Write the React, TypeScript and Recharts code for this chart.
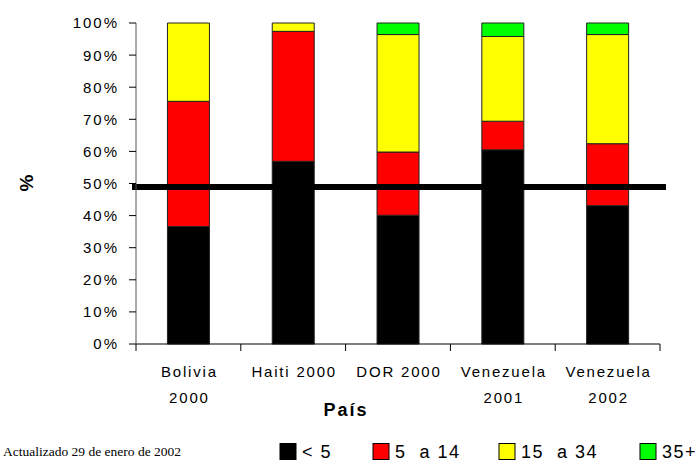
import React from 'react';
import { BarChart, Bar, XAxis, YAxis, ReferenceLine } from 'recharts';

// data (percent of cases by age group)
const categories = ['Bolivia\n2000', 'Haiti 2000', 'DOR 2000', 'Venezuela\n2001', 'Venezuela\n2002'];
const under5 = [36.6, 56.9, 40.1, 60.5, 43.1];
const age5to14 = [39.0, 40.5, 19.7, 8.9, 19.3];
const age15to34 = [24.4, 2.6, 36.6, 26.4, 34.0];
const age35plus = [0, 0, 3.6, 4.2, 3.6];
const yTicks = [0, 10, 20, 30, 40, 50, 60, 70, 80, 90, 100];
const threshold = 48.9;

const seriesNames = ['< 5', '5  a 14', '15  a 34', '35+'];
const seriesKeys = ['a', 'b', 'c', 'd'];
const seriesColors = ['#000000', '#FF0000', '#FFFF00', '#00FF00'];

const data = categories.map((name, i) => ({
  name,
  a: under5[i],
  b: age5to14[i],
  c: age15to34[i],
  d: age35plus[i],
}));

const W = 700;
const H = 461;
const MARGIN = { top: 23, right: 40, bottom: 57, left: 0 };
const Y_AXIS_W = 136;
const PLOT_W = W - MARGIN.right - MARGIN.left - Y_AXIS_W;
const BAND = PLOT_W / categories.length;
const FONT = '"Liberation Sans", Arial, sans-serif';

const CategoryTick = ({ x, y, payload, index }: any) => {
  const lines = String(payload.value).split('\n');
  return (
    <g>
      <line x1={x - BAND / 2} x2={x - BAND / 2} y1={y} y2={y + 7} stroke="#000" />
      {index === categories.length - 1 && (
        <line x1={x + BAND / 2} x2={x + BAND / 2} y1={y} y2={y + 7} stroke="#000" />
      )}
      {lines.map((l, i) => (
        <text key={i} x={x + 1} y={y + 33 + i * 26} textAnchor="middle" fill="#000"
          fontFamily={FONT} fontSize={15} style={{ letterSpacing: 1.8 }}>
          {l}
        </text>
      ))}
    </g>
  );
};

const PercentTick = ({ x, y, payload }: any) => (
  <text x={x} y={y} dy="0.36em" textAnchor="end" fill="#000" fontFamily={FONT}
    fontSize={15} style={{ letterSpacing: 2 }}>
    {payload.value}%
  </text>
);

const legendX = [280, 373, 499, 640];

export default function App() {
  return (
    <div style={{ position: 'absolute', left: 0, top: 0, width: W, height: H, background: '#fff', overflow: 'hidden' }}>
      <BarChart width={W} height={H} data={data} margin={MARGIN} barCategoryGap="30%">
        <XAxis dataKey="name" tick={<CategoryTick />} tickLine={false} tickSize={0} tickMargin={0}
          height={60} interval={0} axisLine={{ stroke: '#000' }} />
        <YAxis width={Y_AXIS_W} domain={[0, 100]} ticks={yTicks} tick={<PercentTick />}
          tickSize={7} tickMargin={10} axisLine={{ stroke: '#555' }} tickLine={{ stroke: '#000' }} />
        {seriesKeys.map((k, i) => (
          <Bar key={k} dataKey={k} name={seriesNames[i]} stackId="s" fill={seriesColors[i]}
            stroke="#222" strokeWidth={1} isAnimationActive={false} />
        ))}
        <ReferenceLine y={threshold} shape={(p: any) => (
          <line x1={p.x1 - 4} x2={p.x2 + 6} y1={p.y1} y2={p.y2} stroke="#000" strokeWidth={6} />
        )} />
      </BarChart>
      <svg width={W} height={H} style={{ position: 'absolute', left: 0, top: 0, pointerEvents: 'none' }}>
        <text x={26} y={183} transform="rotate(-90 26 183)" textAnchor="middle" dominantBaseline="central"
          fontFamily={FONT} fontWeight="bold" fontSize={19}>%</text>
        <text x={346} y={416} textAnchor="middle" fontFamily={FONT} fontWeight="bold" fontSize={18}
          style={{ letterSpacing: 2 }}>País</text>
        {seriesNames.map((n, i) => (
          <g key={n}>
            <rect x={legendX[i]} y={443.5} width={16} height={16} fill={seriesColors[i]} stroke="#000" strokeWidth={1} />
            <text x={legendX[i] + 22} y={458} fontFamily={FONT} fontSize={18}
              style={{ letterSpacing: 1.5, whiteSpace: 'pre' }}>{n}</text>
          </g>
        ))}
        <text x={3} y={456} fontFamily='"Liberation Serif", "Times New Roman", serif' fontSize={13.5}>
          Actualizado 29 de enero de 2002
        </text>
      </svg>
    </div>
  );
}
